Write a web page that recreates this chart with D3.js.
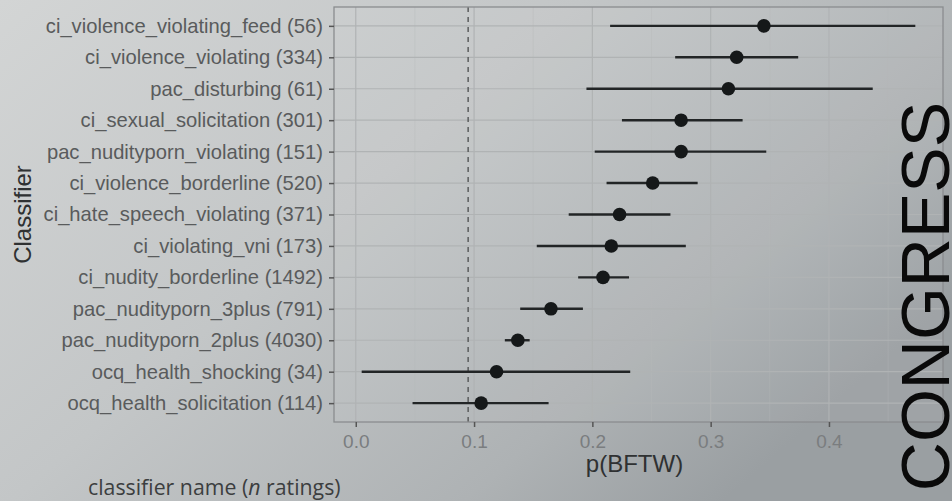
<!DOCTYPE html>
<html>
<head>
<meta charset="utf-8">
<script src="https://cdn.jsdelivr.net/npm/d3@7"></script>
<style>
  html, body { margin: 0; padding: 0; background: #c4c7c8; }
  svg { display: block; }
  .sans { font-family: "Liberation Sans", Arial, Helvetica, sans-serif; }
  .humanist { font-family: "Open Sans", sans-serif; }
</style>
</head>
<body>
<svg id="chart" width="952" height="501"></svg>
<script>
// Classifier names with rating counts, top to bottom
const classifiers = [
  "ci_violence_violating_feed (56)",
  "ci_violence_violating (334)",
  "pac_disturbing (61)",
  "ci_sexual_solicitation (301)",
  "pac_nudityporn_violating (151)",
  "ci_violence_borderline (520)",
  "ci_hate_speech_violating (371)",
  "ci_violating_vni (173)",
  "ci_nudity_borderline (1492)",
  "pac_nudityporn_3plus (791)",
  "pac_nudityporn_2plus (4030)",
  "ocq_health_shocking (34)",
  "ocq_health_solicitation (114)"
];
// Point estimate of p(BFTW) and interval bounds
const estimate = [0.345, 0.322, 0.315, 0.275, 0.275, 0.251, 0.223, 0.216, 0.209, 0.165, 0.137, 0.119, 0.106];
const lower    = [0.215, 0.270, 0.195, 0.225, 0.202, 0.212, 0.180, 0.153, 0.188, 0.139, 0.126, 0.005, 0.048];
const upper    = [0.473, 0.374, 0.437, 0.327, 0.347, 0.289, 0.266, 0.279, 0.231, 0.192, 0.147, 0.232, 0.163];
const xTicks = [0.0, 0.1, 0.2, 0.3, 0.4];
const baseline = 0.095;

const rows = classifiers.map((name, i) => ({ name, est: estimate[i], lo: lower[i], hi: upper[i] }));

const svg = d3.select("#chart");
const W = 952, H = 501;
const panel = { left: 334, right: 943, top: 7, bottom: 422 };

// Ambient lighting across the screen
const defs = svg.append("defs");
const bg = defs.append("linearGradient").attr("id", "bg")
  .attr("x1", "0").attr("y1", "0").attr("x2", "1").attr("y2", "0.6");
bg.append("stop").attr("offset", "0%").attr("stop-color", "#d3d5d5");
bg.append("stop").attr("offset", "45%").attr("stop-color", "#c3c6c7");
bg.append("stop").attr("offset", "80%").attr("stop-color", "#aeb2b4");
bg.append("stop").attr("offset", "100%").attr("stop-color", "#9a9fa2");
svg.append("rect").attr("width", W).attr("height", H).attr("fill", "url(#bg)");

// Scales (5% expansion on x, 0.6-step padding on the discrete axis)
const xMin = d3.min(lower), xMax = d3.max(upper);
const pad = (xMax - xMin) * 0.05;
const x = d3.scaleLinear().domain([xMin - pad, xMax + pad]).range([panel.left, panel.right]);
const y = d3.scalePoint().domain(classifiers).range([panel.top, panel.bottom]).padding(0.6);

// Panel background
svg.append("rect")
  .attr("x", panel.left).attr("y", panel.top)
  .attr("width", panel.right - panel.left).attr("height", panel.bottom - panel.top)
  .attr("fill", "#ffffff").attr("fill-opacity", 0.05);

// Grid lines
const grid = svg.append("g");
const minorTicks = d3.range(0.05, 0.5, 0.1).filter(v => v > x.domain()[0] && v < x.domain()[1]);
grid.selectAll(".minor").data(minorTicks).join("line")
  .attr("x1", d => x(d)).attr("x2", d => x(d))
  .attr("y1", panel.top).attr("y2", panel.bottom)
  .attr("stroke", "#b6b9ba").attr("stroke-width", 0.6).attr("stroke-opacity", 0.6);
grid.selectAll(".major").data(xTicks).join("line")
  .attr("x1", d => x(d)).attr("x2", d => x(d))
  .attr("y1", panel.top).attr("y2", panel.bottom)
  .attr("stroke", "#b0b3b4").attr("stroke-width", 1.2);
grid.selectAll(".hmajor").data(classifiers).join("line")
  .attr("x1", panel.left).attr("x2", panel.right)
  .attr("y1", d => y(d)).attr("y2", d => y(d))
  .attr("stroke", "#b0b3b4").attr("stroke-width", 1.2);

// Reference line
svg.append("line")
  .attr("x1", x(baseline)).attr("x2", x(baseline))
  .attr("y1", panel.top).attr("y2", panel.bottom)
  .attr("stroke", "#5a5c5d").attr("stroke-width", 1.5)
  .attr("stroke-dasharray", "5,5");

// Panel border
svg.append("rect")
  .attr("x", panel.left).attr("y", panel.top)
  .attr("width", panel.right - panel.left).attr("height", panel.bottom - panel.top)
  .attr("fill", "none").attr("stroke", "#8a8d8f").attr("stroke-width", 1.3);

// Axes
const xAxis = svg.append("g").attr("transform", `translate(0,${panel.bottom})`)
  .call(d3.axisBottom(x).tickValues(xTicks).tickFormat(d3.format(".1f")).tickSize(5).tickPadding(8));
xAxis.attr("font-family", null).attr("font-size", null);
xAxis.select(".domain").remove();
xAxis.selectAll(".tick line").attr("stroke", "#555").attr("stroke-width", 1.5);
xAxis.selectAll(".tick text").attr("class", "sans")
  .attr("fill", "#7a7d7f").attr("font-size", 19);

const yAxis = svg.append("g").attr("transform", `translate(${panel.left},0)`)
  .call(d3.axisLeft(y).tickSize(5).tickPadding(6));
yAxis.attr("font-family", null).attr("font-size", null);
yAxis.select(".domain").remove();
yAxis.selectAll(".tick line").attr("stroke", "#555").attr("stroke-width", 1.5);
yAxis.selectAll(".tick text").attr("class", "sans")
  .attr("fill", "#595b5c").attr("font-size", 20.2);

// Interval bars and point estimates
const marks = svg.append("g");
marks.selectAll(".ci").data(rows).join("line")
  .attr("x1", d => x(d.lo)).attr("x2", d => x(d.hi))
  .attr("y1", d => y(d.name)).attr("y2", d => y(d.name))
  .attr("stroke", "#222526").attr("stroke-width", 2.4);
marks.selectAll(".pt").data(rows).join("circle")
  .attr("cx", d => x(d.est)).attr("cy", d => y(d.name)).attr("r", 6.8)
  .attr("fill", "#151819");

// Titles
svg.append("text").attr("class", "sans")
  .attr("transform", `translate(31,${(panel.top + panel.bottom) / 2}) rotate(-90)`)
  .attr("text-anchor", "middle").attr("font-size", 24)
  .attr("fill", "#2f3132").text("Classifier");

svg.append("text").attr("class", "sans")
  .attr("x", (panel.left + panel.right) / 2 - 4).attr("y", 472)
  .attr("text-anchor", "middle").attr("font-size", 24)
  .attr("fill", "#2f3132").text("p(BFTW)");

const cap = svg.append("text").attr("class", "humanist")
  .attr("x", 88).attr("y", 495).attr("font-size", 21.3)
  .attr("fill", "#3c3e3f");
cap.append("tspan").text("classifier name (");
cap.append("tspan").attr("font-style", "italic").text("n");
cap.append("tspan").text(" ratings)");

// Vertical banner
svg.append("text").attr("class", "sans")
  .attr("transform", "translate(949,102) rotate(-90)")
  .attr("text-anchor", "end").attr("font-size", 68)
  .attr("fill", "#0a0a0a").text("CONGRESS");
</script>
</body>
</html>
